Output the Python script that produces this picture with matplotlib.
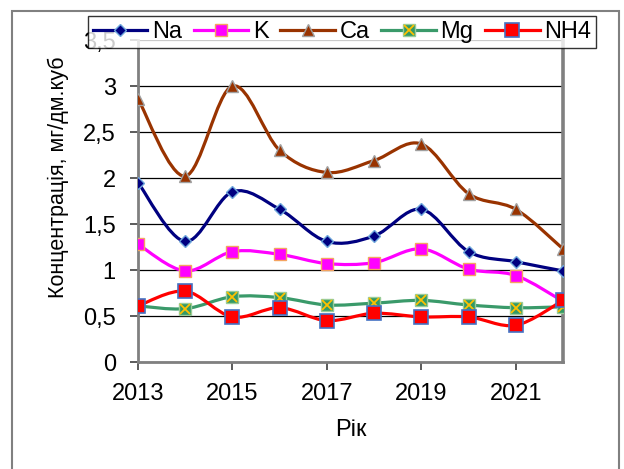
import matplotlib
matplotlib.use("Agg")
import matplotlib.pyplot as plt
from matplotlib.lines import Line2D
from matplotlib.patches import PathPatch, Rectangle
from matplotlib.path import Path

plt.rcParams["font.family"] = ["Liberation Sans", "DejaVu Sans"]

years = [2013, 2014, 2015, 2016, 2017, 2018, 2019, 2020, 2021, 2022]
na = [1.95, 1.31, 1.85, 1.66, 1.31, 1.37, 1.66, 1.20, 1.09, 0.99]
k = [1.28, 0.99, 1.20, 1.17, 1.07, 1.08, 1.23, 1.01, 0.94, 0.66]
ca = [2.86, 2.02, 3.00, 2.30, 2.06, 2.19, 2.37, 1.83, 1.66, 1.23]
mg = [0.61, 0.58, 0.71, 0.70, 0.62, 0.64, 0.67, 0.62, 0.59, 0.60]
nh4 = [0.61, 0.77, 0.49, 0.59, 0.45, 0.53, 0.49, 0.49, 0.40, 0.67]

y_ticks = [0, 0.5, 1, 1.5, 2, 2.5, 3, 3.5]
y_labels = ["0", "0,5", "1", "1,5", "2", "2,5", "3", "3,5"]
x_ticks = [2013, 2015, 2017, 2019, 2021]


def smooth_path(xs, ys):
    # згладжена лінія як в Excel: кубічні Безьє між сусідніми точками
    pts = list(zip(xs, ys))
    verts = [pts[0]]
    codes = [Path.MOVETO]
    n = len(pts)
    for i in range(n - 1):
        p0 = pts[i - 1] if i > 0 else pts[i]
        p1, p2 = pts[i], pts[i + 1]
        p3 = pts[i + 2] if i + 2 < n else pts[i + 1]
        c1 = (p1[0] + (p2[0] - p0[0]) / 6, p1[1] + (p2[1] - p0[1]) / 6)
        c2 = (p2[0] - (p3[0] - p1[0]) / 6, p2[1] - (p3[1] - p1[1]) / 6)
        verts += [c1, c2, p2]
        codes += [Path.CURVE4] * 3
    return Path(verts, codes)


series = [
    ("Na", na, "#000080", dict(marker="D", ms=6.5, mfc="#000080", mec="#6FA8DC", mew=1.0)),
    ("K", k, "#FF00FF", dict(marker="s", ms=8, mfc="#FF00FF", mec="#F4A460", mew=1.0)),
    ("Ca", ca, "#993300", dict(marker="^", ms=9, mfc="#993300", mec="#A0A0A0", mew=1.0)),
    ("Mg", mg, "#3A9A6A", dict(marker="s", ms=9, mfc="#339966", mec="#99CC99", mew=1.0)),
    ("NH4", nh4, "#FF0000", dict(marker="s", ms=9.5, mfc="#FF0000", mec="#4472C4", mew=1.2)),
]

fig = plt.figure(figsize=(6.24, 4.69), dpi=100)
ax = fig.add_axes([0.2212, 0.2281, 0.681, 0.6866])

handles = []
for z, (name, vals, color, mk) in enumerate(series):
    ax.add_patch(PathPatch(smooth_path(years, vals), fill=False, edgecolor=color,
                           lw=2.3, zorder=3 + z, capstyle="round"))
    ax.plot(years, vals, ls="none", zorder=3.5 + z, **mk)
    h = Line2D([], [], color=color, lw=2.3, **mk)
    if name == "Mg":
        ax.plot(years, vals, ls="none", marker="x", ms=7.5, mec="#FFC000", mew=1.3,
                zorder=3.6 + z)
        h = (h, Line2D([], [], ls="none", marker="x", ms=7.5, mec="#FFC000", mew=1.3))
    handles.append(h)

ax.set_xlim(2013, 2022)
ax.set_ylim(0, 3.5)
ax.set_xticks(x_ticks, [str(x) for x in x_ticks])
ax.set_yticks(y_ticks, y_labels)
ax.grid(axis="y", color="black", lw=0.9)
ax.set_axisbelow(True)
ax.tick_params(axis="both", labelsize=17, direction="out", length=6, width=1.2,
               color="#404040")
ax.tick_params(axis="y", pad=10)
ax.tick_params(axis="x", pad=9)
ax.spines["top"].set_visible(False)
for s in ("left", "bottom"):
    ax.spines[s].set_color("#808080")
    ax.spines[s].set_linewidth(2)
ax.spines["right"].set_color("#808080")
ax.spines["right"].set_linewidth(2.6)

ax.set_xlabel("Рік", fontsize=17)
ax.xaxis.set_label_coords(0.5, -0.177)
ax.set_ylabel("Концентрація, мг/дм.куб", fontsize=15.5)
ax.yaxis.set_label_coords(-0.163, 0.573)

leg = fig.legend(handles, [s[0] for s in series], ncol=5, loc="upper left",
                 bbox_to_anchor=(0.141, 0.966), bbox_transform=fig.transFigure,
                 borderaxespad=0, fontsize=17, frameon=True, fancybox=False,
                 handlelength=2.3, handletextpad=0.2, columnspacing=0.5,
                 borderpad=0.22)
leg.get_frame().set_edgecolor("black")
leg.get_frame().set_linewidth(1)
leg.set_zorder(20)

# зовнішня рамка діаграми
fig.patches.append(Rectangle((12 / 624, -0.05), 607 / 624, 1 - 11 / 469 + 0.05,
                             transform=fig.transFigure, fill=False,
                             edgecolor="#808080", lw=1.5))

fig.savefig("out.png", dpi=100)
